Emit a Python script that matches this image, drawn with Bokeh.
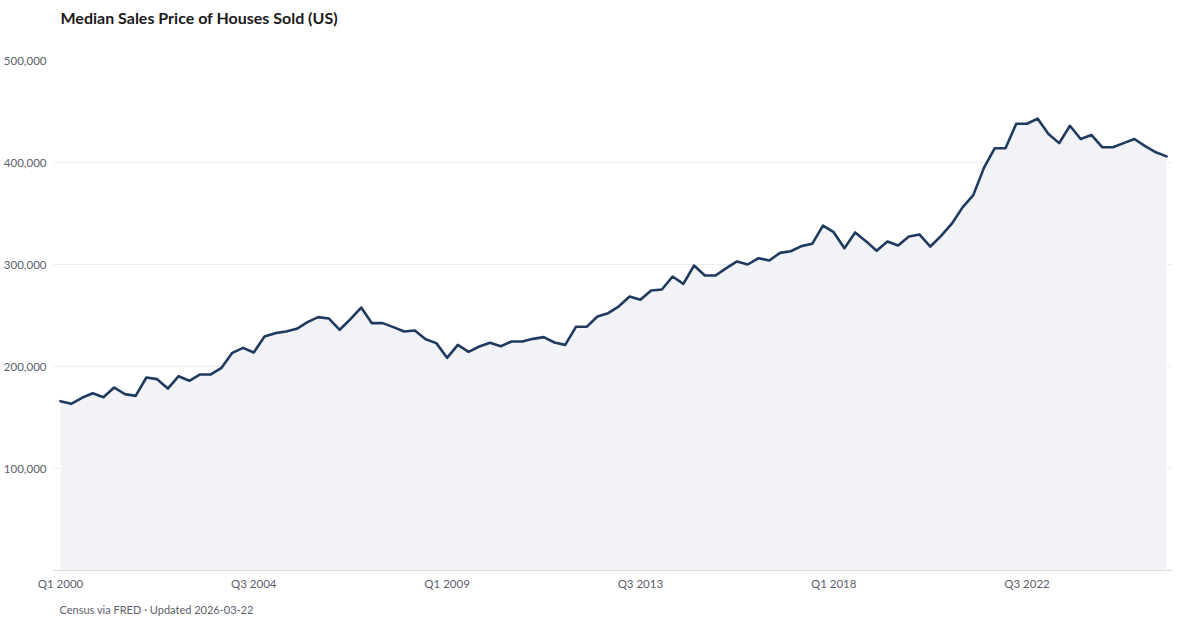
from bokeh.plotting import figure
from bokeh.models import FixedTicker, NumeralTickFormatter, Title, ColumnDataSource
from bokeh.embed import file_html
from bokeh.resources import INLINE

# Median sales price of houses sold (US), quarterly, Q1 2000 .. Q4 2025
prices = [
    166000, 163400, 169300, 173800, 169900, 179400, 172900, 171200,
    189200, 187600, 178400, 190500, 186000, 192200, 192200, 198700,
    213400, 218300, 213700, 229400, 232700, 234300, 236900, 243500,
    248400, 247000, 236000, 246400, 257800, 242500, 242500, 238600,
    234300, 235300, 226800, 222900, 208500, 221200, 214400, 219600,
    223200, 219900, 224500, 224500, 227100, 228800, 223500, 221200,
    238900, 238900, 249000, 252300, 259000, 268600, 265400, 274500,
    275500, 288200, 281000, 299000, 289200, 289200, 296400, 303000,
    300000, 306200, 303900, 311400, 313000, 318000, 320300, 338200,
    331700, 316000, 331400, 322900, 313400, 322500, 318600, 327500,
    329400, 317600, 328000, 340000, 356000, 368000, 395000, 414000,
    414000, 438000, 438000, 443000, 428000, 419000, 436000, 423000,
    427000, 415000, 415000, 419000, 423000, 416000, 410000, 406000,
]
tick_positions = [0, 18, 36, 54, 72, 90]
tick_labels = ["Q1 2000", "Q3 2004", "Q1 2009", "Q3 2013", "Q1 2018", "Q3 2022"]
y_ticks = [100000, 200000, 300000, 400000, 500000]

idx = list(range(len(prices)))
src = ColumnDataSource(dict(x=idx, y=prices, base=[0] * len(prices)))

FONT = "Lato"
LABEL_COLOR = "#5b616b"

p = figure(width=1184, height=623, output_backend="svg", toolbar_location=None,
           x_range=(-0.65, 103.55), y_range=(0, 500000),
           min_border_left=46, min_border_right=12, min_border_top=60,
           min_border_bottom=0)

p.varea(x="x", y1="base", y2="y", source=src, fill_color="#f1f3f6", fill_alpha=1.0)
p.line(x="x", y="y", source=src, line_color="#1f3a5f", line_width=2.6,
       line_join="round", line_cap="round")

p.title.text = "Median Sales Price of Houses Sold (US)"
p.title.text_font = FONT
p.title.text_font_size = "16px"
p.title.text_font_style = "bold"
p.title.text_color = "#1a1a1a"
p.title.align = "left"
p.title.vertical_align = "bottom"
p.title.offset = 7
p.title.standoff = 8

# thin spacer between the title and the plot area
spacer = Title(text=" ", text_font_size="1px", standoff=27)
p.add_layout(spacer, "above")

p.outline_line_color = None
p.background_fill_color = "white"
p.border_fill_color = "white"

# x axis
xa = p.xaxis[0]
xa.ticker = FixedTicker(ticks=tick_positions)
xa.major_label_overrides = {t: l for t, l in zip(tick_positions, tick_labels)}
xa.major_tick_line_color = None
xa.minor_tick_line_color = None
xa.major_tick_out = 0
xa.major_label_standoff = 6
xa.axis_line_color = "#d9dce0"
xa.axis_line_width = 1
xa.major_label_text_font = FONT
xa.major_label_text_font_size = "11.5px"
xa.major_label_text_color = LABEL_COLOR

# y axis
ya = p.yaxis[0]
ya.ticker = FixedTicker(ticks=y_ticks)
ya.formatter = NumeralTickFormatter(format="0,0")
ya.major_tick_line_color = None
ya.minor_tick_line_color = None
ya.major_tick_out = 0
ya.major_label_standoff = 7
ya.axis_line_color = None
ya.major_label_text_font = FONT
ya.major_label_text_font_size = "11.5px"
ya.major_label_text_color = LABEL_COLOR

p.xgrid.grid_line_color = None
p.ygrid.grid_line_color = "#ebedf0"
p.ygrid.grid_line_width = 1

footer = Title(text="Census via FRED \u00b7 Updated 2026-03-22", align="left",
               text_font=FONT, text_font_size="11px", text_font_style="normal",
               text_color=LABEL_COLOR, offset=6, standoff=16)
p.add_layout(footer, "below")

open("out.html", "w").write(file_html(p, INLINE))
